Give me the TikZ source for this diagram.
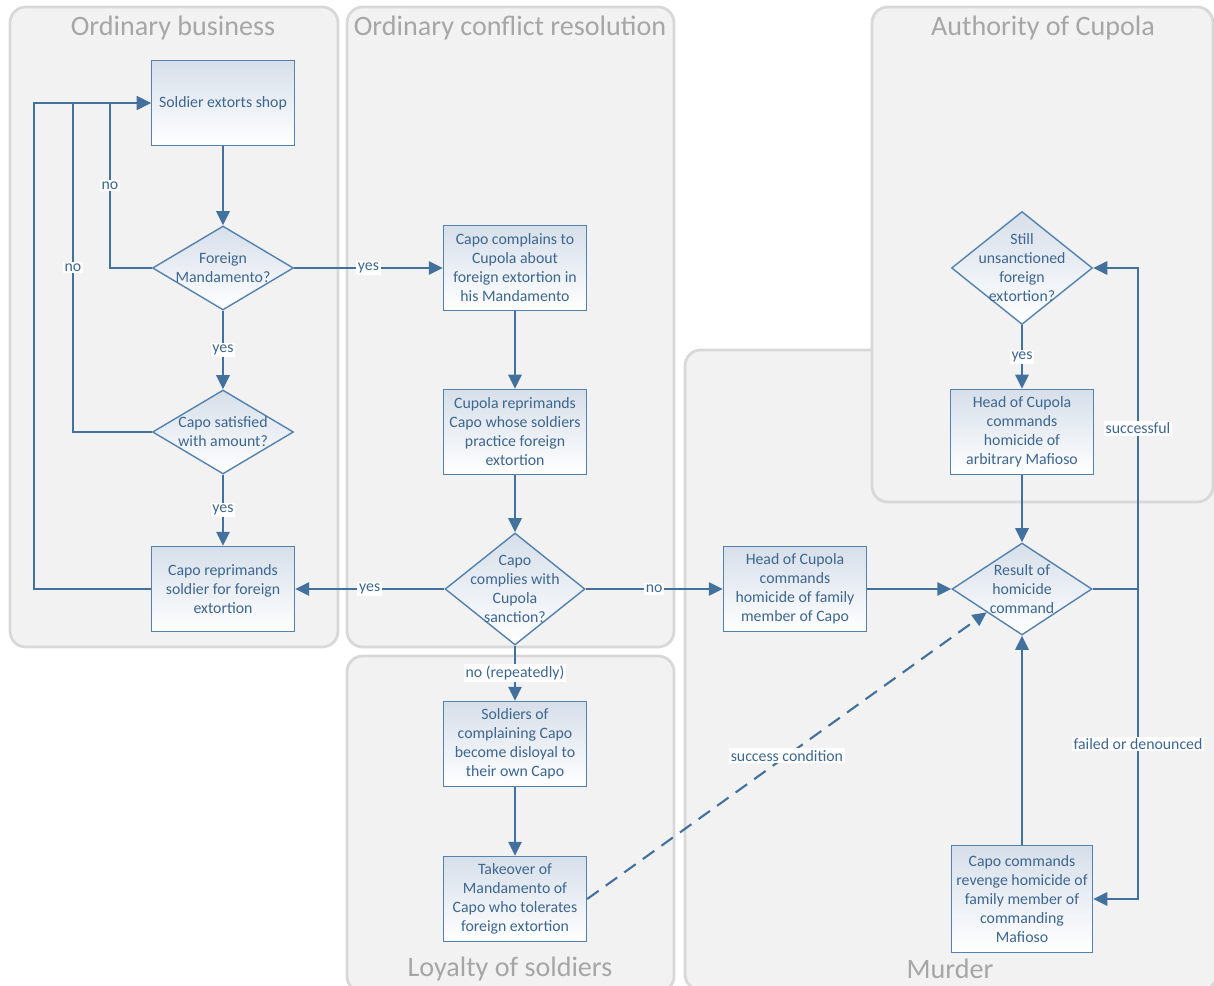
\documentclass[tikz,border=0pt]{standalone}
\usepackage{fontspec}
\setmainfont{Carlito}
\usetikzlibrary{arrows.meta,shapes.geometric}

\definecolor{flowblue}{RGB}{65,113,156}
\definecolor{boxedge}{RGB}{84,130,175}
\definecolor{boxtext}{RGB}{62,102,142}
\definecolor{boxtop}{RGB}{214,223,234}
\definecolor{panelfill}{RGB}{242,242,242}
\definecolor{paneledge}{RGB}{216,216,216}
\definecolor{titlegrey}{RGB}{166,166,166}

\tikzset{
  panel/.style={fill=panelfill, draw=paneledge, line width=1.6pt, rounded corners=9pt},
  paneltitle/.style={text=titlegrey, inner sep=0pt, font=\fontsize{16}{19}\selectfont},
  box/.style={rectangle, draw=boxedge, line width=0.8pt, top color=boxtop, bottom color=white,
    minimum width=2.86cm, minimum height=1.7cm, align=center, inner sep=1pt,
    text=boxtext, font=\fontsize{9}{10.8}\selectfont},
  decision/.style={diamond, draw=boxedge, line width=0.8pt, top color=boxtop, bottom color=white,
    minimum width=2.82cm, minimum height=1.68cm, inner sep=0pt},
  dtext/.style={text=boxtext, align=center, inner sep=0pt, font=\fontsize{9}{10.8}\selectfont},
  link/.style={draw=flowblue, line width=1.2pt},
  flow/.style={link, -{Triangle[length=8pt,width=7.5pt]}},
  lbl/.style={fill=white, text=boxtext, inner sep=1pt, font=\fontsize{9}{10.8}\selectfont},
}

\begin{document}
\begin{tikzpicture}[x=0.02cm, y=-0.02cm]

  % 0. picture frame
  \useasboundingbox (0,0) rectangle (1214,986);
  \clip (0,0) rectangle (1214,986);

  % 1. swim areas
  \draw[panel] (10,7) rectangle (338,647);
  \draw[panel] (347,7) rectangle (674,647);
  \draw[panel] (347,656) rectangle (674,992);
  \draw[panel] (685,350) rectangle (1217,990);
  \draw[panel] (872,7) rectangle (1213,502);

  \node[paneltitle] (tbus) at (173,28) {Ordinary business};
  \node[paneltitle] (tcon) at (510,28) {Ordinary conflict resolution};
  \node[paneltitle] (tloy) at (510,969) {Loyalty of soldiers};
  \node[paneltitle] (tmur) at (950,969) {Murder};
  \node[paneltitle] (taut) at (1043,28) {Authority of Cupola};

  % 2. ordinary business
  \node[box] (s1) at (223,103) {Soldier extorts shop};
  \node[decision, label={[dtext]center:Foreign\\Mandamento?}] (d1) at (223,268) {};
  \node[decision, label={[dtext]center:Capo satisfied\\with amount?}] (d2) at (223,432) {};
  \node[box] (b2) at (223,589) {Capo reprimands\\soldier for foreign\\extortion};

  % 3. conflict resolution and loyalty
  \node[box] (b3) at (515,268) {Capo complains to\\Cupola about\\foreign extortion in\\his Mandamento};
  \node[box] (b4) at (515,432) {Cupola reprimands\\Capo whose soldiers\\practice foreign\\extortion};
  \node[decision, minimum width=2.8cm, minimum height=2.24cm,
    label={[dtext]center:Capo\\complies with\\Cupola\\sanction?}] (d3) at (515,589) {};
  \node[box] (b5) at (515,744) {Soldiers of\\complaining Capo\\become disloyal to\\their own Capo};
  \node[box] (b6) at (515,899) {Takeover of\\Mandamento of\\Capo who tolerates\\foreign extortion};

  % 4. murder and authority
  \node[box] (b7) at (795,589) {Head of Cupola\\commands\\homicide of family\\member of Capo};
  \node[decision, minimum width=2.8cm, minimum height=1.84cm,
    label={[dtext]center:Result of\\homicide\\command}] (d4) at (1022,589) {};
  \node[decision, minimum width=2.82cm, minimum height=2.26cm,
    label={[dtext]center:Still\\unsanctioned\\foreign\\extortion?}] (d5) at (1022,268) {};
  \node[box] (b9) at (1022,432) {Head of Cupola\\commands\\homicide of\\arbitrary Mafioso};
  \node[box, minimum width=2.82cm, minimum height=2.14cm] (b8) at (1022,899)
    {Capo commands\\revenge homicide of\\family member of\\commanding\\Mafioso};

  % 5. return loops on the left
  \coordinate (loopa) at (110,103);
  \coordinate (loopb) at (73,103);
  \coordinate (loopc) at (34,103);
  \coordinate (rjoin) at (1138,589);

  \draw[flow] (s1) -- (d1);
  \draw[flow] (d1.west) -| node[lbl, pos=0.75] {no} (loopa) -- (s1.west);
  \draw[flow] (d2.west) -| node[lbl, pos=0.75] {no} (loopb) -- (s1.west);
  \draw[flow] (b2.west) -| (loopc) -- (s1.west);
  \draw[flow] (d1) -- node[lbl] {yes} (d2);
  \draw[flow] (d2) -- node[lbl] {yes} (b2);

  % 6. conflict flow
  \draw[flow] (d1.east) -- node[lbl] {yes} (b3.west);
  \draw[flow] (b3) -- (b4);
  \draw[flow] (b4) -- (d3);
  \draw[flow] (d3.west) -- node[lbl] {yes} (b2.east);
  \draw[flow] (d3.east) -- node[lbl] {no} (b7.west);
  \draw[flow] (d3.south) -- node[lbl] {no (repeatedly)} (b5.north);
  \draw[flow] (b5) -- (b6);
  \draw[flow, dashed, dash pattern=on 8pt off 5pt] (b6.east) -- node[lbl] {success condition} (d4.south west);

  % 7. murder flow
  \draw[flow] (b7.east) -- (d4.west);
  \draw[flow] (d5) -- node[lbl] {yes} (b9);
  \draw[flow] (b9) -- (d4);
  \draw[flow] (b8) -- (d4);
  \draw[link] (d4.east) -- (rjoin);
  \draw[flow] (rjoin) |- node[lbl, pos=0.25] {successful} (d5.east);
  \draw[flow] (rjoin) |- node[lbl, pos=0.25] {failed or denounced} (b8.east);

\end{tikzpicture}
\end{document}
